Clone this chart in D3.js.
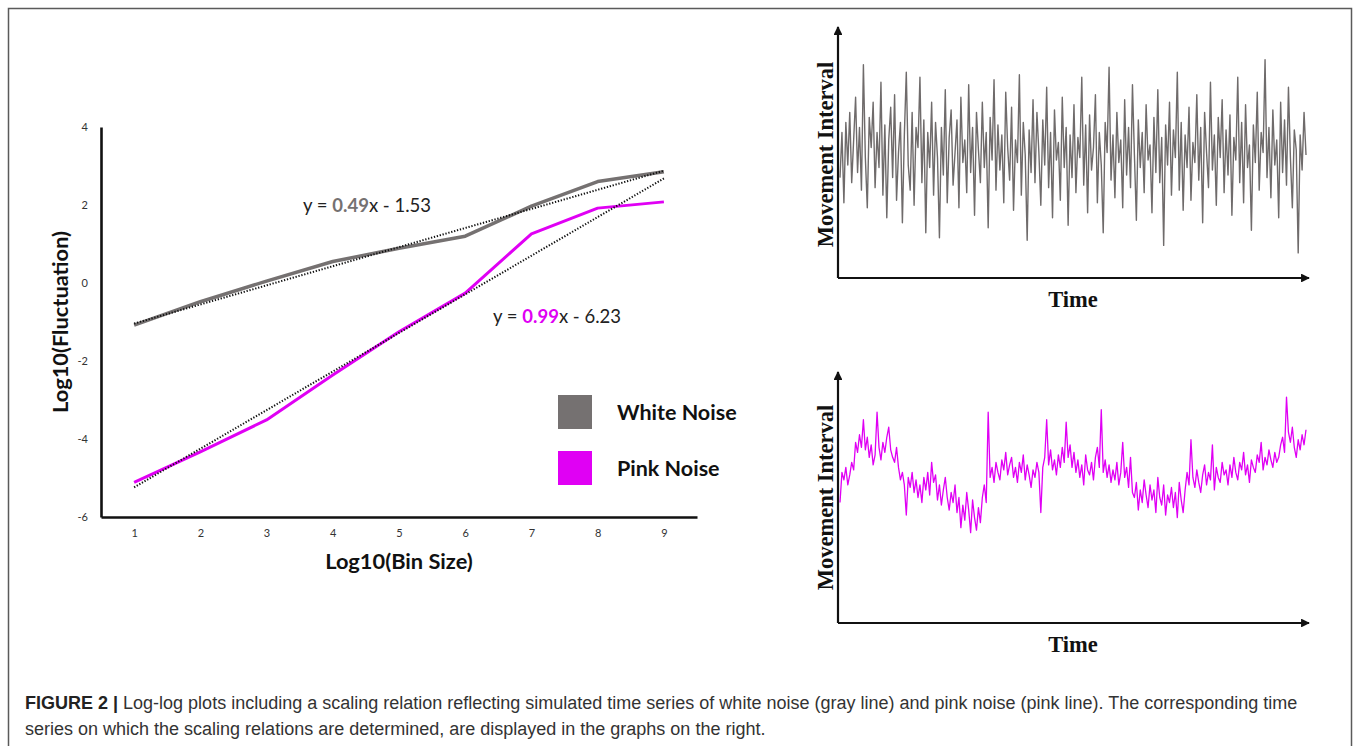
<!DOCTYPE html>
<html lang="en">
<head>
<meta charset="utf-8">
<script src="https://d3js.org/d3.v7.min.js"></script>
<style>body{margin:0;background:#fff;}</style>
</head>
<body>
<script>
// log-log plot data
var binSize = [1, 2, 3, 4, 5, 6, 7, 8, 9];
var whiteFluct = [-1.08, -0.48, 0.05, 0.55, 0.89, 1.2, 1.97, 2.6, 2.85];
var pinkFluct = [-5.11, -4.33, -3.51, -2.36, -1.25, -0.26, 1.26, 1.92, 2.08];
var yTicks = [-6, -4, -2, 0, 2, 4];
var whiteFit = {slope: 0.49, icpt: -1.53};
var pinkFit = {slope: 0.99, icpt: -6.23};
var legendNames = ["White Noise", "Pink Noise"];

// time series (0-100 relative units)
var whiteSeries = [
  40, 58, 30, 62, 45, 66, 38, 55, 72, 42, 60, 35, 85, 48, 28, 64, 52, 70, 36, 58,
  44, 78, 33, 61, 24, 55, 68, 40, 73, 31, 50, 62, 22, 57, 82, 45, 35, 66, 29, 60,
  52, 80, 38, 63, 18, 58, 44, 70, 33, 62, 48, 16, 60, 41, 75, 30, 56, 67, 37, 50,
  63, 28, 72, 46, 55, 34, 77, 42, 60, 25, 66, 51, 38, 70, 44, 58, 20, 64, 47, 79,
  35, 61, 43, 57, 30, 74, 52, 39, 68, 27, 55, 46, 81, 33, 62, 49, 15, 59, 42, 71,
  38, 66, 50, 29, 63, 45, 76, 36, 58, 24, 67, 47, 54, 31, 72, 44, 60, 21, 57, 40,
  69, 34, 56, 48, 80, 37, 61, 26, 65, 43, 52, 73, 30, 58, 45, 18, 62, 50, 84, 39,
  57, 32, 66, 46, 55, 28, 71, 41, 60, 36, 77, 49, 23, 63, 44, 58, 34, 69, 47, 53,
  26, 64, 42, 75, 38, 56, 13, 61, 45, 70, 33, 59, 48, 82, 35, 62, 27, 57, 44, 68,
  31, 54, 46, 73, 39, 60, 22, 66, 50, 36, 78, 43, 57, 29, 64, 48, 71, 34, 59, 41,
  65, 25, 56, 47, 80, 38, 62, 30, 69, 44, 53, 19, 61, 46, 74, 35, 58, 50, 87, 40,
  60, 32, 67, 45, 55, 24, 70, 42, 63, 37, 76, 48, 28, 59, 51, 10, 57, 43, 66, 49
];
var pinkSeries = [
  48, 60, 57, 62, 55, 59, 64, 61, 72, 68, 75, 70, 81, 69, 74, 66, 71, 63, 67, 84,
  70, 65, 72, 68, 74, 78, 69, 66, 64, 70, 62, 57, 60, 55, 43, 58, 54, 60, 52, 57,
  50, 55, 48, 58, 53, 60, 51, 64, 56, 59, 49, 55, 47, 53, 58, 50, 45, 52, 48, 55,
  44, 50, 38, 47, 41, 52, 45, 36, 49, 42, 37, 46, 40, 50, 55, 48, 84, 58, 62, 56,
  64, 60, 57, 65, 61, 68, 59, 63, 66, 58, 62, 56, 64, 60, 67, 57, 63, 59, 54, 61,
  58, 64, 60, 44, 62, 66, 81, 63, 69, 61, 65, 59, 67, 62, 70, 64, 80, 66, 71, 62,
  68, 60, 65, 58, 63, 55, 67, 61, 59, 64, 57, 66, 70, 62, 85, 60, 65, 58, 63, 56,
  61, 57, 64, 55, 60, 72, 58, 62, 54, 66, 52, 50, 56, 45, 53, 48, 57, 51, 46, 55,
  49, 53, 44, 58, 50, 47, 55, 43, 51, 48, 54, 46, 52, 42, 56, 49, 44, 53, 60, 55,
  73, 58, 54, 61, 56, 52, 59, 63, 55, 60, 57, 71, 53, 62, 58, 56, 64, 59, 61, 55,
  63, 58, 66, 60, 57, 64, 61, 68, 59, 63, 56, 65, 62, 60, 67, 64, 72, 61, 66, 63,
  69, 65, 62, 68, 64, 66, 71, 74, 68, 90, 76, 72, 78, 70, 66, 73, 69, 75, 71, 77
];

const W = 1358, H = 746;
const gray = "#757171", pink = "#e000f4";
const calibri = "Lato, 'Open Sans', sans-serif";
const serif = "'Liberation Serif', 'DejaVu Serif', serif";

const svg = d3.select("body").append("svg")
  .attr("width", W).attr("height", H);

// outer frame of the figure
svg.append("rect")
  .attr("x", 8.5).attr("y", 8.5)
  .attr("width", 1343).attr("height", 780)
  .attr("fill", "none").attr("stroke", "#5a5a5a").attr("stroke-width", 1.5);

// ---------- left: log-log plot ----------
var x = d3.scaleLinear().domain([0.5, 9.5]).range([101, 697]);
var y = d3.scaleLinear().domain([-6, 4]).range([517, 127]);

var left = svg.append("g");

var yAxis = left.append("g")
  .attr("transform", "translate(" + x.range()[0] + ",0)")
  .call(d3.axisLeft(y).tickValues(yTicks).tickSize(0).tickPadding(13).tickSizeOuter(0)
    .tickFormat(function(d) { return String(d); }));
var xAxis = left.append("g")
  .attr("transform", "translate(0," + y.range()[0] + ")")
  .call(d3.axisBottom(x).tickValues(binSize).tickSize(0).tickPadding(12).tickSizeOuter(0));

[yAxis, xAxis].forEach(function(a) {
  a.select(".domain").attr("stroke", "#111").attr("stroke-width", 2.6);
  a.selectAll("text").attr("font-family", calibri).attr("font-size", 11).attr("fill", "#333");
});

// fitted trend lines (dotted)
function fitLine(f) {
  var ext = d3.extent(binSize);
  return ext.map(function(v) { return [v, f.slope * v + f.icpt]; });
}
var line = d3.line().x(function(d) { return x(d[0]); }).y(function(d) { return y(d[1]); });

// data lines
left.append("path")
  .datum(binSize.map(function(b, i) { return [b, whiteFluct[i]]; }))
  .attr("d", line).attr("fill", "none")
  .attr("stroke", gray).attr("stroke-width", 3.5).attr("stroke-linejoin", "round");
left.append("path")
  .datum(binSize.map(function(b, i) { return [b, pinkFluct[i]]; }))
  .attr("d", line).attr("fill", "none")
  .attr("stroke", pink).attr("stroke-width", 3).attr("stroke-linejoin", "round");

[whiteFit, pinkFit].forEach(function(f) {
  left.append("path")
    .datum(fitLine(f))
    .attr("d", line).attr("fill", "none")
    .attr("stroke", "#111").attr("stroke-width", 2)
    .attr("stroke-dasharray", "1.3,1.7");
});

// equations
function equation(f, col, px, py) {
  var t = left.append("text")
    .attr("x", px).attr("y", py)
    .attr("font-family", calibri).attr("font-size", 18.5).attr("fill", "#222");
  t.append("tspan").text("y = ");
  t.append("tspan").attr("font-weight", "bold").attr("fill", col).text(f.slope.toFixed(2));
  t.append("tspan").text("x - " + Math.abs(f.icpt).toFixed(2));
}
equation(whiteFit, gray, 303, 212);
equation(pinkFit, pink, 493, 323);

// legend
var leg = left.selectAll(".leg").data(legendNames).enter().append("g")
  .attr("transform", function(d, i) { return "translate(558," + (395 + i * 56) + ")"; });
leg.append("rect").attr("width", 34).attr("height", 34)
  .attr("fill", function(d, i) { return i ? pink : gray; });
leg.append("text").attr("x", 59).attr("y", 25)
  .attr("font-family", calibri).attr("font-weight", "bold").attr("font-size", 21.5)
  .attr("fill", "#111").text(function(d) { return d; });

// axis titles
left.append("text")
  .attr("x", 399).attr("y", 569).attr("text-anchor", "middle")
  .attr("font-family", calibri).attr("font-weight", "bold").attr("font-size", 21.8)
  .attr("fill", "#111").text("Log10(Bin Size)");
left.append("text")
  .attr("transform", "translate(68,322) rotate(-90)").attr("text-anchor", "middle")
  .attr("font-family", calibri).attr("font-weight", "bold").attr("font-size", 21.8)
  .attr("fill", "#111").text("Log10(Fluctuation)");

// ---------- right: time series panels ----------
svg.append("defs").append("marker")
  .attr("id", "arr").attr("viewBox", "0 0 10 10")
  .attr("refX", 9).attr("refY", 5)
  .attr("markerWidth", 4).attr("markerHeight", 4)
  .attr("markerUnits", "strokeWidth")
  .attr("orient", "auto")
  .append("path").attr("d", "M0,0L10,5L0,10z").attr("fill", "#111");

function panel(series, col, top, bottom, sw, labelShift) {
  var g = svg.append("g");
  var tx = d3.scaleLinear().domain([0, series.length - 1]).range([840, 1306]);
  var ty = d3.scaleLinear().domain([0, 100]).range([bottom, top]);
  g.append("path")
    .datum(series)
    .attr("d", d3.line().x(function(d, i) { return tx(i); }).y(function(d) { return ty(d); }))
    .attr("fill", "none").attr("stroke", col).attr("stroke-width", sw)
    .attr("stroke-linejoin", "round");
  g.append("line").attr("x1", 838).attr("y1", bottom).attr("x2", 838).attr("y2", top)
    .attr("stroke", "#111").attr("stroke-width", 2.2).attr("marker-end", "url(#arr)");
  g.append("line").attr("x1", 838).attr("y1", bottom).attr("x2", 1309).attr("y2", bottom)
    .attr("stroke", "#111").attr("stroke-width", 2.2).attr("marker-end", "url(#arr)");
  g.append("text")
    .attr("x", 1073).attr("y", bottom + 29).attr("text-anchor", "middle")
    .attr("font-family", serif).attr("font-weight", "bold").attr("font-size", 22.5)
    .attr("fill", "#111").text("Time");
  g.append("text")
    .attr("transform", "translate(833," + ((top + bottom) / 2 + labelShift) + ") rotate(-90)")
    .attr("text-anchor", "middle")
    .attr("font-family", serif).attr("font-weight", "bold").attr("font-size", 22.5)
    .attr("fill", "#111").text("Movement Interval");
}
panel(whiteSeries, "#6f6b6b", 27, 278, 1.4, 2);
panel(pinkSeries, pink, 372, 623, 1.3, 0);

// ---------- caption ----------
var cap = svg.append("g")
  .attr("font-family", "'Liberation Sans', Arial, sans-serif")
  .attr("font-size", 18).attr("fill", "#333");
var l1 = cap.append("text").attr("x", 25).attr("y", 709);
l1.append("tspan").attr("font-weight", "bold").attr("fill", "#222").text("FIGURE 2 | ");
l1.append("tspan").text("Log-log plots including a scaling relation reflecting simulated time series of white noise (gray line) and pink noise (pink line). The corresponding time");
cap.append("text").attr("x", 25).attr("y", 735)
  .text("series on which the scaling relations are determined, are displayed in the graphs on the right.");
</script>
</body>
</html>
